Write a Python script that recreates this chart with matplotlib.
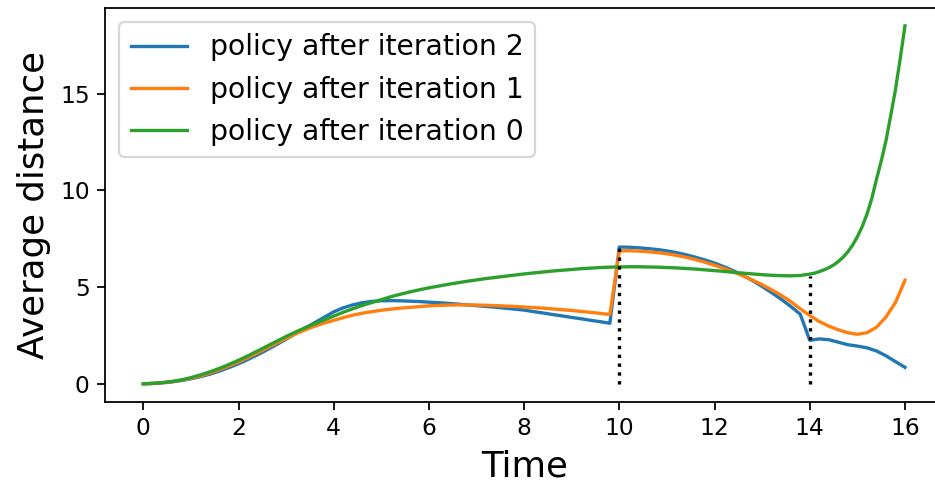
"""Average distance over time for three policy iterations."""
import numpy as np
import matplotlib.pyplot as plt

time = np.round(np.arange(0, 16.01, 0.2), 1)
# iteration 0 is sampled finer near the end where it shoots up
time0 = np.round(np.concatenate([np.arange(0, 13.9, 0.2), np.arange(14, 16.01, 0.1)]), 1)

# policy after iteration 2 (blue)
iter2 = [0.0, 0.02, 0.05, 0.10, 0.17, 0.26, 0.37, 0.50, 0.66, 0.84,
         1.04, 1.26, 1.50, 1.76, 2.03, 2.31, 2.60, 2.88, 3.16, 3.44,
         3.72, 3.93, 4.08, 4.19, 4.26, 4.29, 4.30, 4.29, 4.27, 4.25,
         4.22, 4.19, 4.16, 4.12, 4.08, 4.04, 4.00, 3.96, 3.91, 3.86,
         3.81, 3.73, 3.66, 3.58, 3.51, 3.43, 3.36, 3.28, 3.21, 3.13,
         7.07, 7.06, 7.03, 6.99, 6.94, 6.87, 6.78, 6.67, 6.54, 6.40,
         6.24, 6.05, 5.84, 5.60, 5.33, 5.03, 4.71, 4.37, 4.00, 3.60,
         2.25, 2.32, 2.28, 2.15, 2.02, 1.95, 1.86, 1.70, 1.45, 1.15,
         0.85]

# policy after iteration 1 (orange)
iter1 = [0.0, 0.02, 0.06, 0.11, 0.19, 0.29, 0.41, 0.56, 0.73, 0.92,
         1.13, 1.36, 1.60, 1.85, 2.10, 2.35, 2.58, 2.79, 2.98, 3.14,
         3.28, 3.42, 3.55, 3.65, 3.73, 3.80, 3.86, 3.91, 3.95, 3.99,
         4.03, 4.05, 4.07, 4.08, 4.08, 4.07, 4.06, 4.04, 4.02, 4.00,
         3.97, 3.94, 3.91, 3.87, 3.83, 3.79, 3.74, 3.69, 3.64, 3.58,
         6.87, 6.88, 6.86, 6.83, 6.78, 6.72, 6.64, 6.54, 6.42, 6.28,
         6.13, 5.96, 5.78, 5.58, 5.36, 5.12, 4.86, 4.58, 4.25, 3.88,
         3.53, 3.22, 2.98, 2.79, 2.64, 2.56, 2.64, 2.92, 3.45, 4.20,
         5.35]

# policy after iteration 0 (green)
iter0 = [0.0, 0.02, 0.06, 0.12, 0.20, 0.32, 0.46, 0.62, 0.80, 1.00,
         1.22, 1.45, 1.70, 1.95, 2.20, 2.45, 2.68, 2.90, 3.10, 3.30,
         3.50, 3.70, 3.88, 4.05, 4.20, 4.35, 4.50, 4.63, 4.75, 4.86,
         4.96, 5.05, 5.14, 5.22, 5.30, 5.37, 5.44, 5.50, 5.56, 5.62,
         5.68, 5.73, 5.78, 5.83, 5.87, 5.91, 5.95, 5.98, 6.01, 6.03,
         6.04, 6.05, 6.05, 6.04, 6.03, 6.01, 5.99, 5.96, 5.93, 5.89,
         5.85, 5.81, 5.76, 5.72, 5.68, 5.64, 5.61, 5.59, 5.58, 5.60,
         5.67, 5.72, 5.80, 5.89, 6.00, 6.14, 6.32, 6.54, 6.82, 7.17,
         7.60, 8.12, 8.75, 9.55, 10.55, 11.50, 12.55, 13.85, 15.20, 16.80,
         18.50]

# switch times marked with dotted lines
switch_times = [10, 14]
switch_tops = [7.0, 5.55]

fig, ax = plt.subplots(figsize=(935 / 160, 482 / 160), dpi=160)
fig.subplots_adjust(left=0.1126, right=1.0086, top=0.9834, bottom=0.1666)

ax.plot(time, iter2, color='tab:blue', label='policy after iteration 2')
ax.plot(time, iter1, color='tab:orange', label='policy after iteration 1')
ax.plot(time0, iter0, color='tab:green', label='policy after iteration 0')
ax.vlines(switch_times, 0, switch_tops, colors='black', linestyles=':')

ax.set_xlabel("Time", fontsize=16)
ax.set_ylabel("Average distance", fontsize=16)
ax.set_xticks(range(0, 17, 2))
ax.set_yticks([0, 5, 10, 15])
ax.tick_params(axis='both', which='major', labelsize=10.5)
ax.legend(loc='upper left', fontsize=12.7)

plt.savefig('out.png')
